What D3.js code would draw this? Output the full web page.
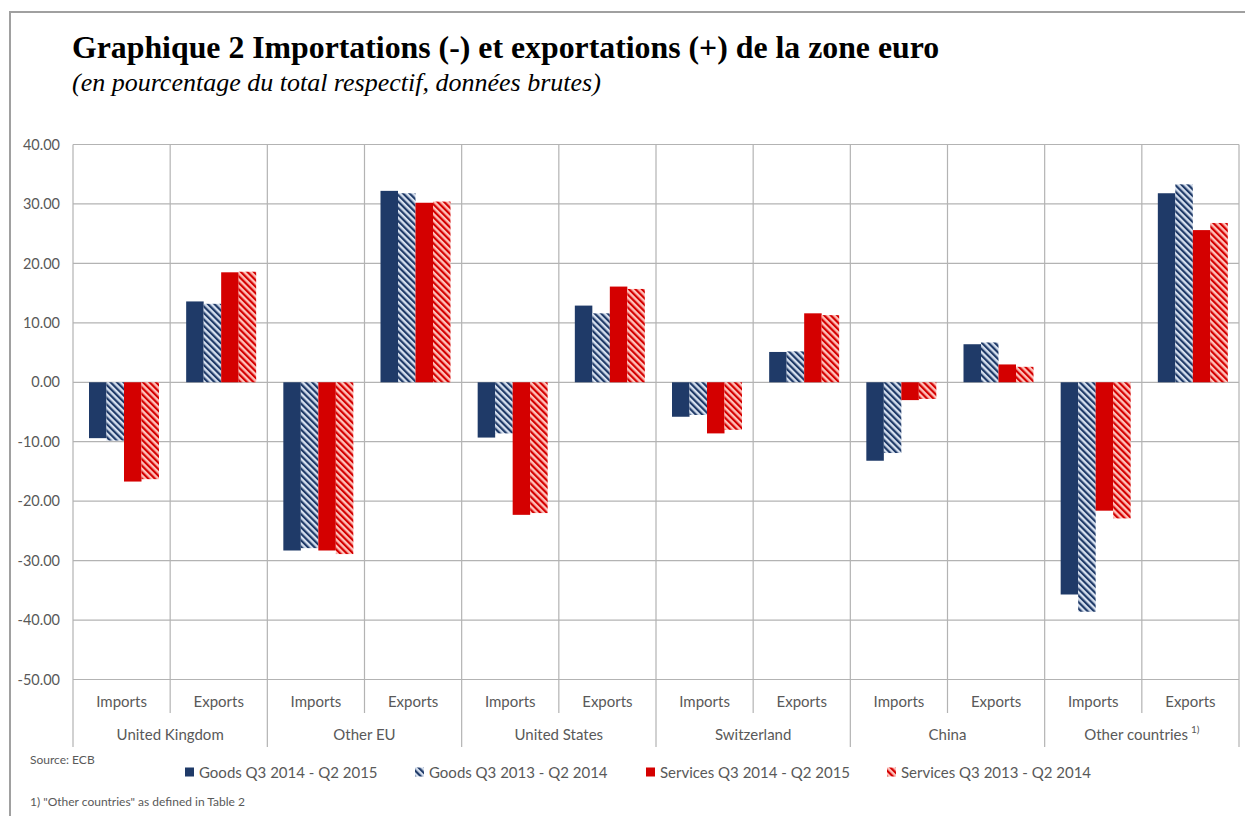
<!DOCTYPE html>
<html>
<head>
<meta charset="utf-8">
<script src="https://cdn.jsdelivr.net/npm/d3@7"></script>
<style>
  html, body { margin: 0; padding: 0; background: #ffffff; }
  svg { display: block; }
  .lbl { font-family: Lato, "Open Sans", sans-serif; fill: #595959; }
</style>
</head>
<body>
<div id="chart"></div>
<script>
// Dimensions
const W = 1245, H = 816;
const PLOT = {left: 73, right: 1239, top: 144.5, bottom: 679.5};

// Donnees
const countries = ["United Kingdom", "Other EU", "United States", "Switzerland", "China", "Other countries"];
const flows = ["Imports", "Exports"];
const seriesNames = [
  "Goods Q3 2014 - Q2 2015",
  "Goods Q3 2013 - Q2 2014",
  "Services Q3 2014 - Q2 2015",
  "Services Q3 2013 - Q2 2014"
];
// une valeur par (pays, flux) : UK imp, UK exp, Other EU imp, ...
const goods2015    = [-9.4, 13.6, -28.3, 32.2, -9.3, 12.9, -5.8, 5.1, -13.2, 6.4, -35.7, 31.8];
const goods2013    = [-9.8, 13.2, -27.9, 31.8, -8.6, 11.6, -5.5, 5.2, -11.9, 6.7, -38.6, 33.3];
const services2015 = [-16.7, 18.5, -28.3, 30.2, -22.3, 16.1, -8.6, 11.6, -3.0, 3.0, -21.6, 25.6];
const services2013 = [-16.3, 18.6, -28.9, 30.4, -22.0, 15.7, -8.0, 11.3, -2.8, 2.6, -22.9, 26.8];
const yTicks = [40, 30, 20, 10, 0, -10, -20, -30, -40, -50];

const seriesValues = [goods2015, goods2013, services2015, services2013];

// Styles des series
const NAVY = "#1f3a68", RED = "#d40000";
const seriesFill = ["#1f3a68", "url(#hatch-blue)", "#d40000", "url(#hatch-red)"];

// Slots (pays x flux)
const slots = [];
countries.forEach(c => flows.forEach(f => slots.push({country: c, flow: f, id: c + "|" + f})));
const rows = [];
slots.forEach((s, i) => {
  seriesNames.forEach((name, k) => {
    rows.push({slot: s.id, series: name, k: k, value: seriesValues[k][i]});
  });
});

const svg = d3.select("#chart").append("svg")
  .attr("width", W).attr("height", H);

svg.append("rect").attr("width", W).attr("height", H).attr("fill", "#fff");

// Motifs hachures
const defs = svg.append("defs");
function hatch(id, bg, fg) {
  const p = defs.append("pattern")
    .attr("id", id)
    .attr("patternUnits", "userSpaceOnUse")
    .attr("width", 4.6).attr("height", 4.6)
    .attr("patternTransform", "rotate(-45)");
  p.append("rect").attr("width", 4.6).attr("height", 4.6).attr("fill", bg);
  p.append("rect").attr("width", 2.2).attr("height", 4.6).attr("fill", fg);
}
hatch("hatch-blue", "#d6e0ef", NAVY);
hatch("hatch-red", "#ffc2bb", RED);

// Cadre gris (haut et gauche)
svg.append("path")
  .attr("d", `M10,${H} V12 H${W}`)
  .attr("fill", "none")
  .attr("stroke", "#a0a0a0")
  .attr("stroke-width", 2);

// Titre
svg.append("text")
  .attr("x", 72).attr("y", 58)
  .style("font-family", '"Liberation Serif", "Times New Roman", serif')
  .style("font-weight", "bold")
  .style("font-size", "31.8px")
  .attr("fill", "#000")
  .text("Graphique 2 Importations (-) et exportations (+) de la zone euro");

svg.append("text")
  .attr("x", 72).attr("y", 91)
  .style("font-family", '"Liberation Serif", "Times New Roman", serif')
  .style("font-style", "italic")
  .style("font-size", "26px")
  .attr("fill", "#000")
  .text("(en pourcentage du total respectif, données brutes)");

// Echelles
const y = d3.scaleLinear().domain([-50, 40]).range([PLOT.bottom, PLOT.top]);
const x0 = d3.scaleBand().domain(slots.map(s => s.id)).range([PLOT.left, PLOT.right]);
const x1 = d3.scaleBand().domain(seriesNames).range([16, 86]);

// Grille horizontale
svg.append("g")
  .selectAll("line")
  .data(yTicks)
  .join("line")
  .attr("x1", PLOT.left).attr("x2", PLOT.right)
  .attr("y1", d => y(d)).attr("y2", d => y(d))
  .attr("stroke", "#b3b3b3")
  .attr("stroke-width", 1.2);

// Axe Y
const yAxis = d3.axisLeft(y)
  .tickValues(yTicks)
  .tickSize(0)
  .tickPadding(13)
  .tickFormat(d => d.toFixed(2));
svg.append("g")
  .attr("transform", `translate(${PLOT.left},0)`)
  .call(yAxis)
  .call(g => g.select(".domain").remove())
  .call(g => g.selectAll(".tick text")
    .attr("class", "lbl")
    .style("font-size", "14.5px")
    .attr("fill", "#595959"));

// Lignes verticales : separations de slots
const bounds = d3.range(slots.length + 1);
svg.append("g")
  .selectAll("line")
  .data(bounds)
  .join("line")
  .attr("x1", i => i === slots.length ? PLOT.right : x0(slots[i].id))
  .attr("x2", i => i === slots.length ? PLOT.right : x0(slots[i].id))
  .attr("y1", PLOT.top)
  .attr("y2", i => i % 2 === 0 ? 747 : 713)
  .attr("stroke", "#b3b3b3")
  .attr("stroke-width", 1.2);

// Barres
svg.append("g")
  .selectAll("rect")
  .data(rows)
  .join("rect")
  .attr("x", d => x0(d.slot) + x1(d.series))
  .attr("width", x1.bandwidth())
  .attr("y", d => y(Math.max(0, d.value)))
  .attr("height", d => Math.abs(y(d.value) - y(0)))
  .attr("fill", d => seriesFill[d.k]);

// Etiquettes de categories
svg.append("g")
  .selectAll("text")
  .data(slots)
  .join("text")
  .attr("class", "lbl")
  .attr("x", d => x0(d.id) + x0.bandwidth() / 2)
  .attr("y", 707)
  .attr("text-anchor", "middle")
  .style("font-size", "15px")
  .text(d => d.flow);

const countryLabels = svg.append("g")
  .selectAll("text")
  .data(countries)
  .join("text")
  .attr("class", "lbl")
  .attr("x", c => x0(c + "|Imports") + x0.bandwidth())
  .attr("y", 740)
  .attr("text-anchor", "middle")
  .style("font-size", "15px")
  .text(c => c);

countryLabels.filter(c => c === "Other countries")
  .append("tspan")
  .attr("dy", -7)
  .attr("dx", 3)
  .style("font-size", "10px")
  .text("1)");

// Source et note
svg.append("text")
  .attr("class", "lbl")
  .attr("x", 30).attr("y", 764)
  .style("font-size", "12px")
  .text("Source: ECB");

svg.append("text")
  .attr("class", "lbl")
  .attr("x", 30).attr("y", 806)
  .style("font-size", "12px")
  .text("1) \"Other countries\" as defined in Table 2");

// Legende
const legendX = [185, 415, 646, 887];
const legend = svg.append("g")
  .selectAll("g")
  .data(seriesNames)
  .join("g")
  .attr("transform", (d, i) => `translate(${legendX[i]},772)`);

legend.append("rect")
  .attr("x", 0).attr("y", -4.5)
  .attr("width", 9).attr("height", 9)
  .attr("fill", (d, i) => seriesFill[i]);

legend.append("text")
  .attr("class", "lbl")
  .attr("x", 14).attr("y", 5.5)
  .style("font-size", "15px")
  .text(d => d);
</script>
</body>
</html>
